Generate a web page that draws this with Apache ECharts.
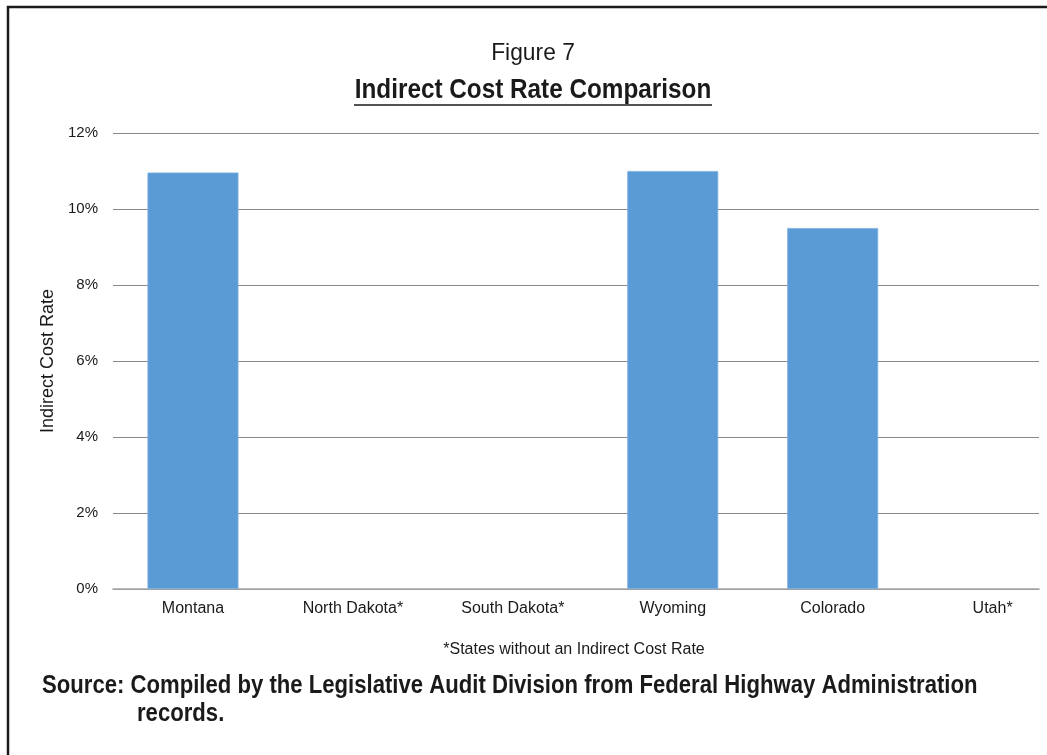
<!DOCTYPE html>
<html>
<head>
<meta charset="utf-8">
<script src="https://cdn.jsdelivr.net/npm/echarts@6/dist/echarts.min.js"></script>
<style>
html,body{margin:0;padding:0;background:#fff;}
#chart{width:1047px;height:755px;}
</style>
</head>
<body>
<div id="chart"></div>
<script>
var categories = ['Montana', 'North Dakota*', 'South Dakota*', 'Wyoming', 'Colorado', 'Utah*'];
var rates = [10.96, null, null, 11.0, 9.5, null];
var yTicks = [0, 2, 4, 6, 8, 10, 12];
var figureLabel = 'Figure 7';
var chartTitle = 'Indirect Cost Rate Comparison';
var footnote = '*States without an Indirect Cost Rate';
var sourceLine1 = 'Source: Compiled by the Legislative Audit Division from Federal Highway Administration';
var sourceLine2 = 'records.';

var font = '"Liberation Sans", Arial, Helvetica, sans-serif';
var chart = echarts.init(document.getElementById('chart'), null, {renderer: 'canvas'});

var barData = rates.map(function (v, i) { return [i, v]; });
var catIdx = categories.map(function (c, i) { return i; });

chart.setOption({
  animation: false,
  backgroundColor: '#ffffff',
  grid: {left: 113, right: 8, top: 133, bottom: 166, containLabel: false},
  xAxis: {
    type: 'value',
    min: -0.5,
    max: 5.29,
    axisLine: {show: true, lineStyle: {color: '#a6a6a6', width: 1.5}},
    axisTick: {show: false},
    splitLine: {show: false},
    axisLabel: {
      customValues: catIdx,
      margin: 12,
      fontFamily: font,
      fontSize: 16,
      color: '#1a1a1a',
      formatter: function (v) { return categories[Math.round(v)] || ''; }
    }
  },
  yAxis: {
    type: 'value',
    min: yTicks[0],
    max: yTicks[yTicks.length - 1],
    interval: 2,
    name: 'Indirect Cost Rate',
    nameLocation: 'middle',
    nameGap: 54,
    nameRotate: 90,
    nameTextStyle: {fontFamily: font, fontSize: 18, color: '#1a1a1a'},
    axisLine: {show: false},
    axisTick: {show: false},
    axisLabel: {
      margin: 15,
      fontFamily: font,
      fontSize: 15,
      color: '#1a1a1a',
      formatter: function (v) { return v + '%'; }
    },
    splitLine: {show: true, lineStyle: {color: '#888888', width: 1}}
  },
  series: [{
    type: 'bar',
    data: barData,
    barWidth: 91,
    itemStyle: {color: '#5B9BD5', borderColor: '#7fb1df', borderWidth: 0.8}
  }],
  graphic: [
    {type: 'rect', shape: {x: 8, y: 7, width: 1200, height: 900},
     style: {fill: 'none', stroke: '#1a1a1a', lineWidth: 2.5}, silent: true},
    {type: 'text', x: 533, y: 53, scaleX: 0.95,
     style: {text: figureLabel, font: '24px ' + font, fill: '#1a1a1a', textAlign: 'center', textVerticalAlign: 'middle'}},
    {type: 'text', x: 533, y: 91, scaleX: 0.9,
     style: {text: chartTitle, font: 'bold 27px ' + font, fill: '#1a1a1a', textAlign: 'center', textVerticalAlign: 'middle'}},
    {type: 'line', shape: {x1: 354, y1: 105, x2: 712, y2: 105},
     style: {stroke: '#1a1a1a', lineWidth: 1.6}},
    {type: 'text', x: 574, y: 650,
     style: {text: footnote, font: '16px ' + font, fill: '#1a1a1a', textAlign: 'center', textVerticalAlign: 'middle'}},
    {type: 'text', x: 42, y: 686, scaleX: 0.885,
     style: {text: sourceLine1, font: 'bold 25px ' + font, fill: '#1a1a1a', textAlign: 'left', textVerticalAlign: 'middle'}},
    {type: 'text', x: 137, y: 714, scaleX: 0.885,
     style: {text: sourceLine2, font: 'bold 25px ' + font, fill: '#1a1a1a', textAlign: 'left', textVerticalAlign: 'middle'}}
  ]
});
</script>
</body>
</html>
